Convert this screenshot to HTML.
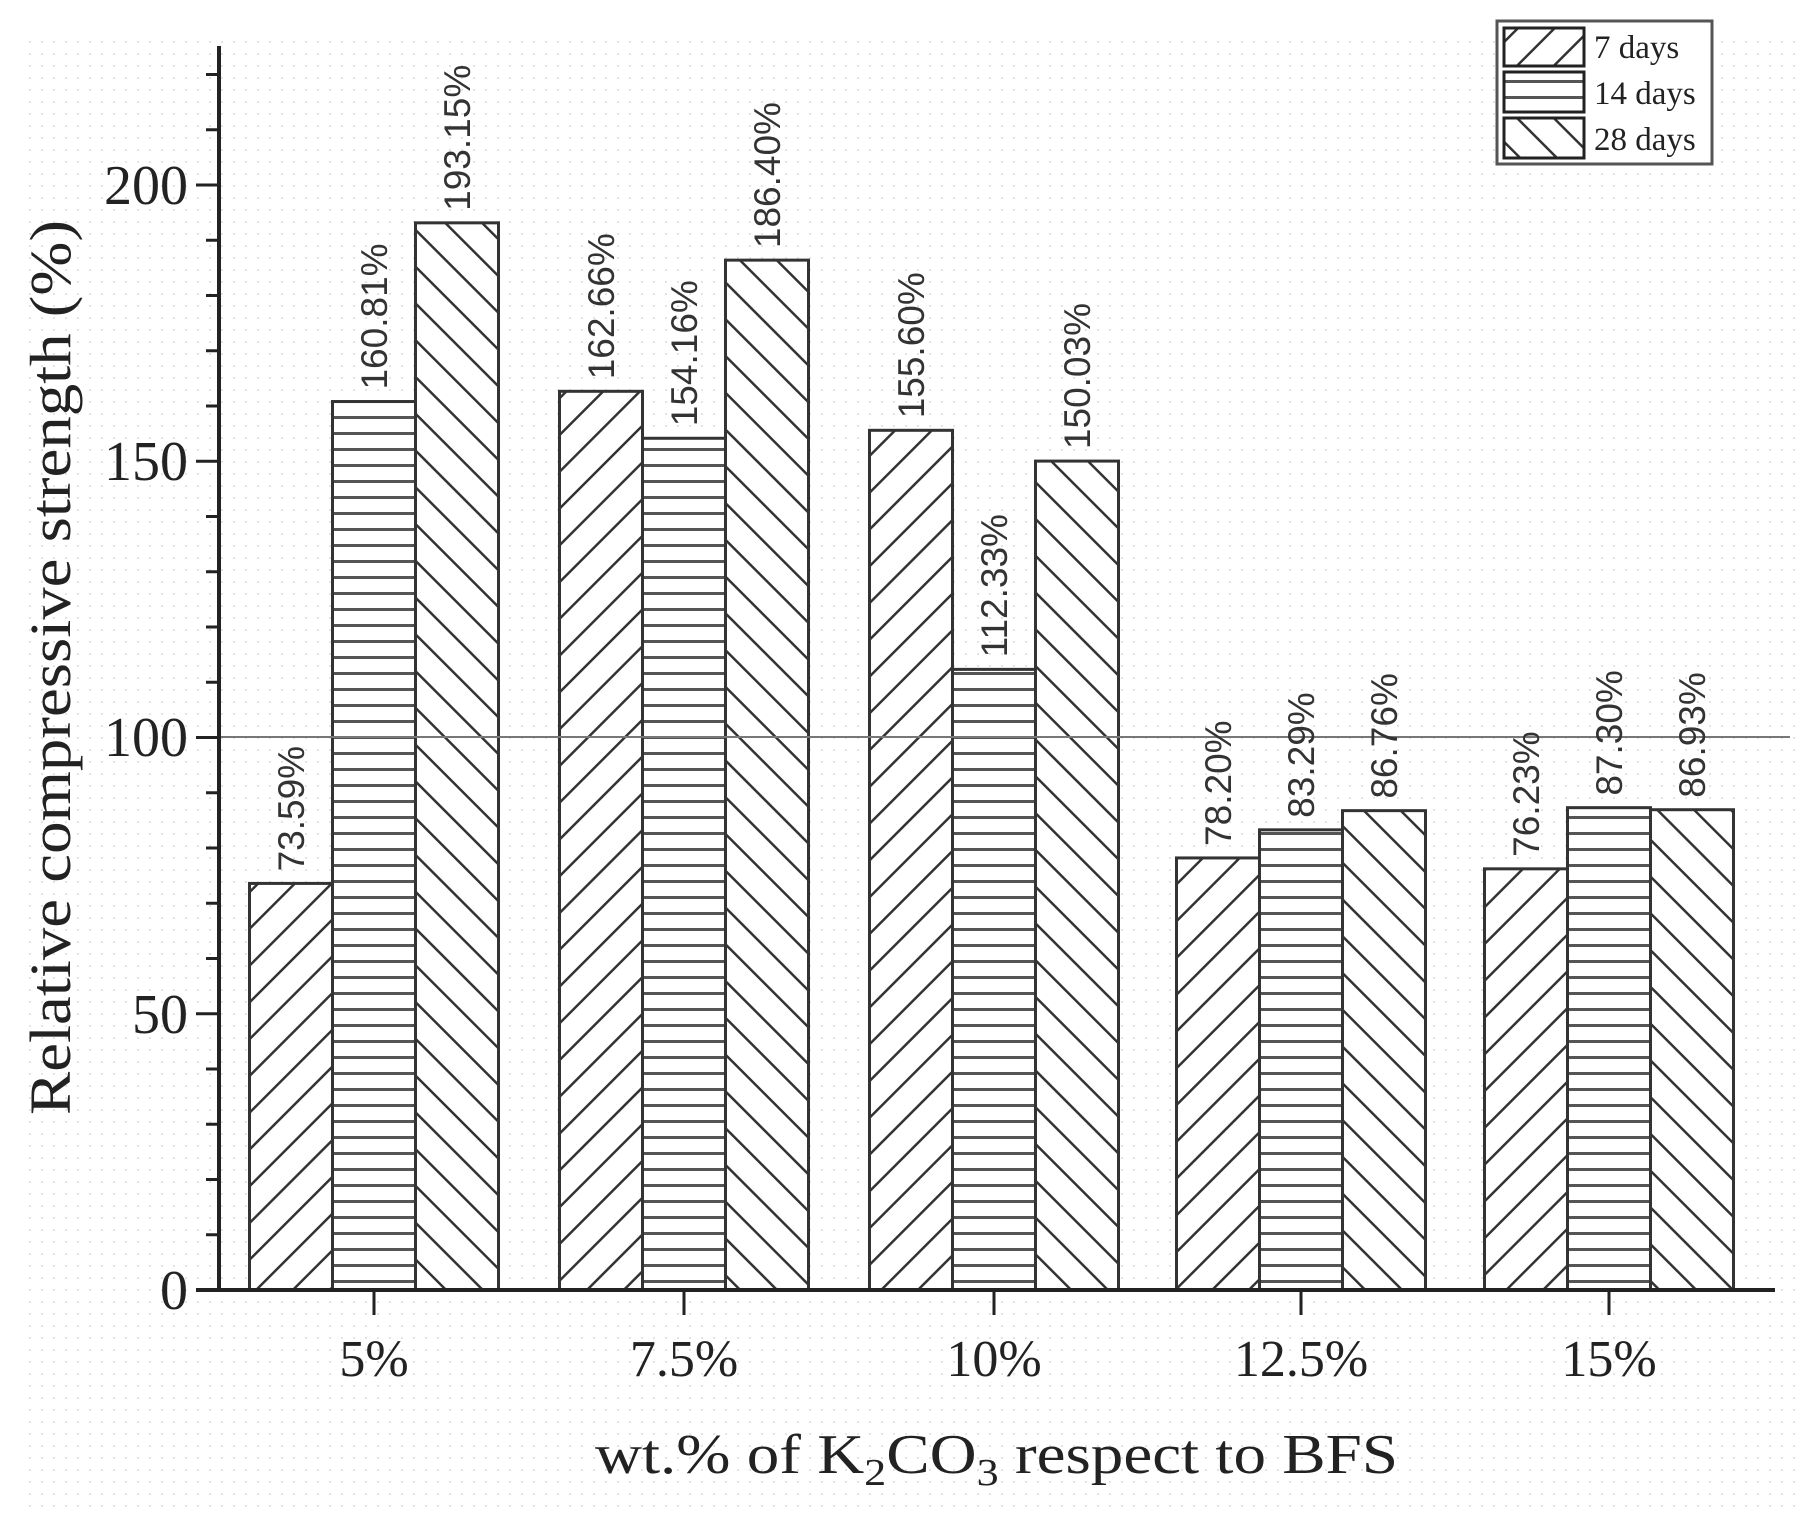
<!DOCTYPE html>
<html><head><meta charset="utf-8"><style>
html,body{margin:0;padding:0;background:#fff;}
svg{display:block;}
.t{font-family:"Liberation Serif",serif;fill:#222;}
.s{font-family:"Liberation Sans",sans-serif;fill:#333;}
</style></head><body>
<svg width="1802" height="1513" viewBox="0 0 1802 1513" xmlns="http://www.w3.org/2000/svg">
<defs>
<pattern id="dots" width="12" height="12" patternUnits="userSpaceOnUse"><rect x="5" y="5" width="2" height="2" fill="#e4e4e4"/></pattern>
<pattern id="p7" width="26" height="26" patternUnits="userSpaceOnUse" patternTransform="rotate(45)"><rect width="26" height="26" fill="#fff"/><rect x="0" y="0" width="2.5" height="26" fill="#333"/></pattern>
<pattern id="p14" width="16" height="16" patternUnits="userSpaceOnUse"><rect width="16" height="16" fill="#fff"/><rect x="0" y="0" width="16" height="3" fill="#555"/></pattern>
<pattern id="p28" width="26" height="26" patternUnits="userSpaceOnUse" patternTransform="rotate(-45)"><rect width="26" height="26" fill="#fff"/><rect x="0" y="0" width="2.5" height="26" fill="#333"/></pattern>
</defs>
<rect x="20" y="40" width="1782" height="1473" fill="url(#dots)"/>
<g id="bars" stroke="#333" stroke-width="3"></g>
<line x1="219" y1="737" x2="1790" y2="737" stroke="#777" stroke-width="2"/>
<line x1="219" y1="46" x2="219" y2="1292" stroke="#222" stroke-width="4"/>
<line x1="196" y1="1290" x2="1775" y2="1290" stroke="#222" stroke-width="4"/>
<g id="ticks" stroke="#222" stroke-width="3"></g>
<g class="t" font-size="56" text-anchor="end">
<text x="188" y="1309">0</text><text x="188" y="1033">50</text><text x="188" y="756">100</text><text x="188" y="480">150</text><text x="188" y="204">200</text>
</g>
<g class="t" font-size="52" text-anchor="middle">
<text x="374" y="1376">5%</text><text x="684" y="1376">7.5%</text><text x="994" y="1376">10%</text><text x="1301" y="1376">12.5%</text><text x="1609" y="1376">15%</text>
</g>
<text class="t" x="595" y="1473" font-size="56" textLength="803" lengthAdjust="spacingAndGlyphs">wt.% of K<tspan font-size="38" dy="12">2</tspan><tspan dy="-12">CO</tspan><tspan font-size="38" dy="12">3</tspan><tspan dy="-12"> respect to BFS</tspan></text>
<text class="t" transform="translate(70,1115) rotate(-90)" font-size="58" textLength="895" lengthAdjust="spacingAndGlyphs">Relative compressive strength (%)</text>
<g id="labels" class="s" font-size="37"></g>
<rect x="1497" y="21" width="215" height="143" fill="#fff" stroke="#555" stroke-width="3"/>
<rect x="1504" y="28" width="80" height="38" fill="url(#p7)" stroke="#222" stroke-width="3"/>
<rect x="1504" y="72" width="80" height="40" fill="url(#p14)" stroke="#222" stroke-width="3"/>
<rect x="1504" y="118" width="80" height="40" fill="url(#p28)" stroke="#222" stroke-width="3"/>
<g class="t" font-size="33"><text x="1594" y="58">7 days</text><text x="1594" y="104">14 days</text><text x="1594" y="150">28 days</text></g>
<script>
var d=[[73.59,160.81,193.15],[162.66,154.16,186.40],[155.60,112.33,150.03],[78.20,83.29,86.76],[76.23,87.30,86.93]];
var c=[374,684,994,1301,1609],pats=["p7","p14","p28"],y0=1290,k=5.525,w=83;
var b=document.getElementById("bars"),L=document.getElementById("labels"),T=document.getElementById("ticks"),ns="http://www.w3.org/2000/svg";
for(var i=0;i<5;i++)for(var j=0;j<3;j++){var v=d[i][j],x=c[i]-124.5+j*w,y=y0-v*k;
var r=document.createElementNS(ns,"rect");r.setAttribute("x",x);r.setAttribute("y",y);r.setAttribute("width",w);r.setAttribute("height",v*k);r.setAttribute("fill","url(#"+pats[j]+")");b.appendChild(r);
var t=document.createElementNS(ns,"text");t.setAttribute("transform","translate("+(x+w/2+13)+","+(y-12)+") rotate(-90)");t.textContent=v.toFixed(2)+"%";L.appendChild(t);}
for(var v=0;v<=220;v+=10){var y=y0-v*k,l=document.createElementNS(ns,"line");l.setAttribute("x1",v%50==0?196:206);l.setAttribute("x2",219);l.setAttribute("y1",y);l.setAttribute("y2",y);T.appendChild(l);}
for(var i=0;i<5;i++){var l=document.createElementNS(ns,"line");l.setAttribute("x1",c[i]);l.setAttribute("x2",c[i]);l.setAttribute("y1",1290);l.setAttribute("y2",1315);T.appendChild(l);}
</script>
</svg>
</body></html>
